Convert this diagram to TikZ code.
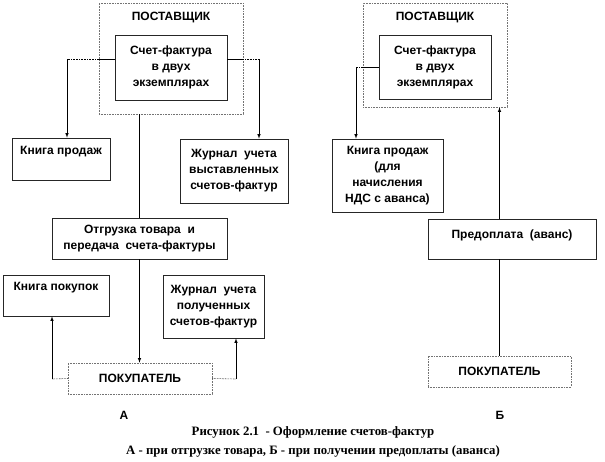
\documentclass[tikz,border=0pt]{standalone}
\usepackage{fontspec}
\setmainfont{Liberation Sans}
\newfontfamily\capfont{Liberation Serif}
\usepackage{tikz}
\usetikzlibrary{positioning}
\usetikzlibrary{arrows}

\begin{document}
\begin{tikzpicture}[x=1pt,y=-1pt,>=latex,font=\bfseries\fontsize{12}{16}\selectfont]
  \tikzstyle{doc}=[draw=black!85,line width=0.7pt,inner sep=0pt,align=center]
  \tikzstyle{party}=[draw=black!55,densely dotted,line width=0.6pt,inner sep=0pt,align=center]
  \tikzstyle{txt}=[inner sep=0pt,align=center]
  \tikzstyle{link}=[draw=black,line width=0.6pt]
  \tikzstyle{gap}=[draw=black,line width=0.6pt,densely dotted]

  \useasboundingbox (0,0) rectangle (605,461);

  % --- A: otgruzka tovara
  \node[party,minimum width=144,minimum height=111] (postA) at (171,58.5) {};
  \node[txt] (postAt) at (171,18) {ПОСТАВЩИК};
  \node[doc,minimum width=112,minimum height=65] (invA) at (171,67.5) {Счет-фактура\\в двух\\экземплярах};
  \node[doc,minimum width=98,minimum height=42] (salesA) at (61,159) {};
  \node[txt] (salesAt) at (61,152) {Книга продаж};
  \node[doc,minimum width=108,minimum height=64] (jourOutA) at (234,171) {Журнал\ \ учета\\выставленных\\счетов-фактур};
  \node[doc,minimum width=175,minimum height=41] (shipA) at (139.5,238.5) {Отгрузка товара\ \ и\\передача\ \ счета-фактуры};
  \node[doc,minimum width=106,minimum height=41] (purchA) at (56,295.5) {};
  \node[txt] (purchAt) at (56,288) {Книга покупок};
  \node[doc,minimum width=101,minimum height=63] (jourInA) at (213.5,306.5) {Журнал\ \ учета\\полученных\\счетов-фактур};
  \node[party,minimum width=144,minimum height=31] (buyA) at (140,378.5) {ПОКУПАТЕЛЬ};
  \node[txt] (markA) at (124,415) {А};

  \coordinate (aL) at (67,59);
  \coordinate (aR) at (259,59);
  \coordinate (bL) at (52,379);
  \coordinate (bR) at (236,379);

  \draw[link] (invA.west |- aL) -- (postA.west |- aL);
  \draw[gap] (postA.west |- aL) -- (aL);
  \draw[link,->] (aL) -- (aL |- salesA.north);
  \draw[link] (invA.east |- aR) -- (postA.east |- aR);
  \draw[gap] (postA.east |- aR) -- (aR);
  \draw[link,->] (aR) -- (aR |- jourOutA.north);
  \draw[link] (shipA.north |- postA.south) -- (shipA.north);
  \draw[link,->] (shipA.south) -- (shipA.south |- buyA.north);
  \draw[gap] (buyA.west) -- (bL);
  \draw[link,->] (bL) -- (bL |- purchA.south);
  \draw[gap] (buyA.east) -- (bR);
  \draw[link,->] (bR) -- (bR |- jourInA.south);

  % --- B: predoplata
  \node[party,minimum width=144,minimum height=104] (postB) at (435,55) {};
  \node[txt] (postBt) at (435,18) {ПОСТАВЩИК};
  \node[doc,minimum width=112,minimum height=64] (invB) at (435,67) {Счет-фактура\\в двух\\экземплярах};
  \node[doc,minimum width=111,minimum height=73] (salesB) at (387.5,175.5) {Книга продаж\\(для\\начисления\\НДС с аванса)};
  \node[doc,minimum width=168,minimum height=40] (prepB) at (512,239) {};
  \node[txt] (prepBt) at (512,235) {Предоплата\ \ (аванс)};
  \node[party,minimum width=143,minimum height=31] (buyB) at (499.5,371.5) {ПОКУПАТЕЛЬ};
  \node[txt] (markB) at (500,415) {Б};

  \coordinate (cL) at (356,67);

  \draw[link] (invB.west) -- (postB.west |- cL);
  \draw[gap] (postB.west |- cL) -- (cL);
  \draw[link,->] (cL) -- (cL |- salesB.north);
  \draw[link] (buyB.north) -- (buyB.north |- prepB.south);
  \draw[link,->] (buyB.north |- prepB.north) -- (buyB.north |- postB.south);

  % --- caption
  \node[txt,font=\capfont\bfseries\fontsize{12.8}{19}\selectfont] (caption) at (313,441.5)
    {Рисунок 2.1\ \ - Оформление счетов-фактур\\А - при отгрузке товара, Б - при получении предоплаты (аванса)};
\end{tikzpicture}
\end{document}
